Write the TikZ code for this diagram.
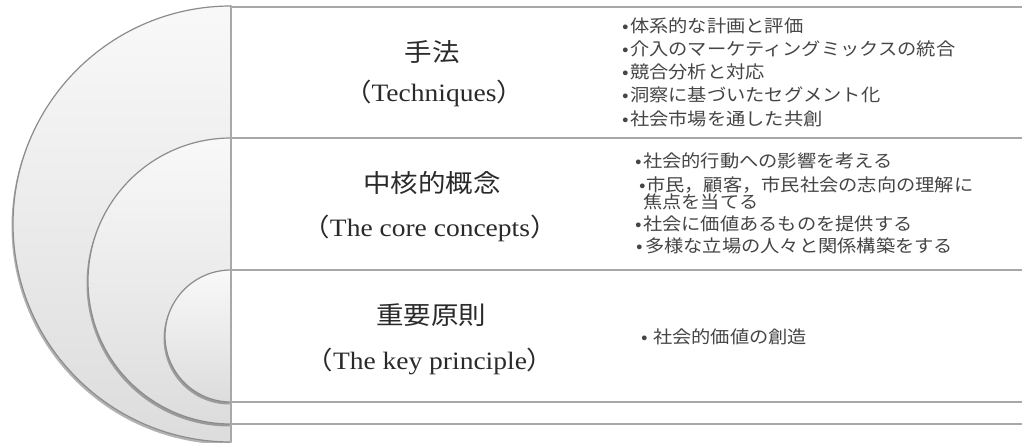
\documentclass[tikz,border=0pt]{standalone}
\usepackage{fontspec}
\setmainfont{Liberation Serif}
\newfontfamily\jp[FakeStretch=1.1]{Noto Sans CJK JP}
\newfontfamily\enserif[FakeStretch=1.1]{Liberation Serif}
\usetikzlibrary{shadows}
\definecolor{ringgray}{HTML}{8C8C8C}
\definecolor{linegray}{HTML}{A8A8A8}
\definecolor{headtext}{HTML}{2A2A2A}
\definecolor{bultext}{HTML}{454545}
\newcommand{\lpar}{{\jp （}}
\newcommand{\rpar}{{\jp ）}}
\newcommand{\bu}[1]{\makebox[#1][l]{\hspace{-2pt}•}}
\begin{document}
\begin{tikzpicture}[x=1pt,y=-1pt,
  ring/.style={draw=ringgray, line width=1.2pt, top color=gray!5, bottom color=gray!27,
    drop shadow={shadow xshift=-1.5pt, shadow yshift=-2.5pt, opacity=0.3, fill=black}},
  sep/.style={draw=linegray, line width=1.5pt},
  headjp/.style={inner sep=0pt, text=headtext, font=\jp\fontsize{25}{28}\selectfont},
  headen/.style={inner sep=0pt, text=headtext, font=\enserif\fontsize{25}{28}\selectfont},
  bul/.style={inner sep=0pt, anchor=west, text=bultext, font=\jp\fontsize{17.5}{20}\selectfont}]
\useasboundingbox (0,0) rectangle (1022,442);
\fill[white] (0,0) rectangle (1022,442);
% nested half discs
\path[ring] (231,442) arc[start angle=90, end angle=270, radius=218] -- cycle;
\path[ring] (231,424) arc[start angle=90, end angle=270, radius=143] -- cycle;
\path[ring] (231,402) arc[start angle=90, end angle=270, radius=66] -- cycle;
% frame lines
\coordinate (vt) at (231,7);
\coordinate (vb) at (231,442);
\draw[sep] (vt) -- (vb);
\foreach \yy in {7,138,270,402,424}{
  \draw[sep] (231,\yy) -- (1022,\yy);
}
% headings
\node[headjp] (h1) at (432,52) {手法};
\node[headen] (e1) at (434,93) {\lpar Techniques\rpar};
\node[headjp] (h2) at (432,183) {中核的概念};
\node[headen] (e2) at (430,228) {\lpar The core concepts\rpar};
\node[headjp] (h3) at (431,315) {重要原則};
\node[headen] (e3) at (430,361) {\lpar The key principle\rpar};
% bullets: techniques
\node[bul] (t1) at (624,26) {\bu{6pt}体系的な計画と評価};
\node[bul] (t2) at (624,49) {\bu{6pt}介入のマーケティングミックスの統合};
\node[bul] (t3) at (624,72) {\bu{6pt}競合分析と対応};
\node[bul] (t4) at (624,95) {\bu{6pt}洞察に基づいたセグメント化};
\node[bul] (t5) at (624,119) {\bu{6pt}社会市場を通した共創};
% bullets: core concepts
\node[bul] (c1) at (637,161) {\bu{6pt}社会的行動への影響を考える};
\node[bul] (c2) at (641,185.5) {\bu{5pt}市民，顧客，市民社会の志向の理解に};
\node[bul] (c2b) at (643,201.5) {焦点を当てる};
\node[bul] (c3) at (637,224) {\bu{6pt}社会に価値あるものを提供する};
\node[bul] (c4) at (638,246) {\bu{7pt}多様な立場の人々と関係構築をする};
% bullets: key principle
\node[bul] (k1) at (643,337) {\bu{10pt}社会的価値の創造};
\end{tikzpicture}
\end{document}
